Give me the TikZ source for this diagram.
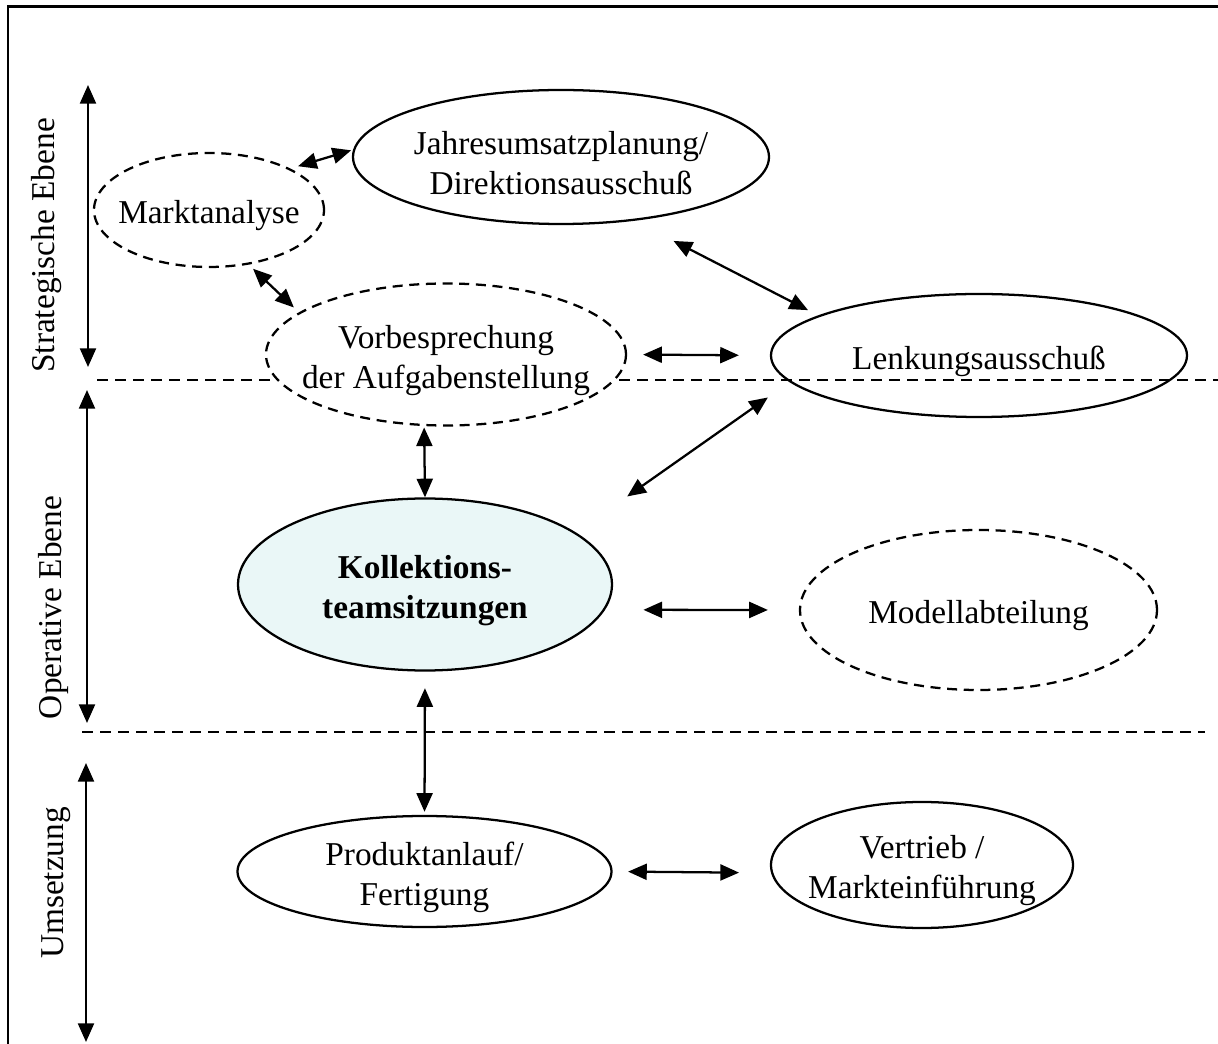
\documentclass[tikz,border=0pt]{standalone}
\usepackage{fontspec}
\setmainfont{Liberation Serif}
\definecolor{mKollFill}{HTML}{EAF7F7}
\usetikzlibrary{arrows.meta,shapes.geometric}
% pushes the first text line down a little
\newcommand{\toprule}{\rule{0pt}{26pt}}

\begin{document}
\begin{tikzpicture}[x=0.75pt, y=-0.75pt, font=\fontsize{25}{30}\selectfont,
  gremium/.style={ellipse, draw, line width=1.7pt, align=center, inner xsep=-15pt, inner ysep=-3pt},
  vorstufe/.style={gremium, dash pattern=on 7.5pt off 5pt},
  link/.style={{Triangle[length=14pt,width=12pt]}-{Triangle[length=14pt,width=12pt]}, line width=1.7pt},
  ebene/.style={rotate=90, anchor=base},
  trenner/.style={line width=2pt, dash pattern=on 8pt off 5.5pt}]
\useasboundingbox (0,0) rectangle (1218,1044);
% frame, only left and top edge visible
\draw[line width=2pt] (8,1044) -- (8,6.5) -- (1218,6.5);
% level separators
\draw[trenner] (97,380) -- (1218,380);
\draw[trenner] (82,732) -- (1205,732);
% level arrows and labels
\coordinate (strTop) at (88,85);
\coordinate (strBot) at (88,367);
\coordinate (opTop) at (87,390);
\coordinate (opBot) at (87,723);
\coordinate (umTop) at (86,763);
\coordinate (umBot) at (86,1042);
\draw[link] (strTop) -- (strBot);
\draw[link] (opTop) -- (opBot);
\draw[link] (umTop) -- (umBot);
\node[ebene] (strLabel) at (54,245.5) {Strategische Ebene};
\node[ebene] (opLabel) at (61,607.5) {Operative Ebene};
\node[ebene] (umLabel) at (63,883) {Umsetzung};
% strategic level
\node[vorstufe, minimum width=172.5pt, minimum height=85.5pt] (markt) at (209,210) {\toprule Marktanalyse};
\node[gremium, minimum width=312pt, minimum height=100.5pt] (jahres) at (561,157) {\toprule Jahresumsatzplanung/\\Direktionsausschuß};
\node[vorstufe, fill=white, minimum width=270pt, minimum height=106.5pt] (vorb) at (446,354.5) {\toprule Vorbesprechung\\der Aufgabenstellung};
\node[gremium, minimum width=312pt, minimum height=92.25pt] (lenk) at (979,355.5) {\toprule Lenkungsausschuß};
% operative level
\node[gremium, fill=mKollFill, minimum width=280.5pt, minimum height=129pt] (koll) at (425,584.5) {\toprule\textbf{Kollektions-}\\\textbf{teamsitzungen}};
\node[vorstufe, minimum width=267.75pt, minimum height=120pt] (modell) at (978.5,610) {\toprule Modellabteilung};
% execution level
\node[gremium, minimum width=280.5pt, minimum height=83.25pt] (prod) at (424.5,871.5) {\toprule Produktanlauf/\\Fertigung};
\node[gremium, minimum width=226.5pt, minimum height=94.5pt] (vertrieb) at (922,865) {\toprule Vertrieb /\\Markteinführung};
% connectors
\draw[link, shorten <=6pt, shorten >=1.5pt] (markt.27) -- (jahres.178.5);
\draw[link, shorten <=4.5pt, shorten >=5.3pt] (markt.-54) -- (vorb.164);
\draw[link, shorten <=33pt, shorten >=8.6pt] (jahres.-41) -- (lenk.166);
\draw[link, shorten <=12pt, shorten >=23.25pt] (vorb.east) -- (lenk.west);
\draw[link, shorten <=1pt] (vorb.-107) -- (koll.north);
\draw[link, shorten <=20pt, shorten >=47pt] (lenk.188) -- (koll.19);
\draw[link, shorten <=28.8pt, shorten >=23.25pt] (koll.-8) -- (modell.west);
\draw[link, shorten <=12.4pt, shorten >=2.3pt] (koll.south) -- (prod.north);
\draw[link, shorten <=11.6pt, shorten >=24pt] (prod.east) -- (vertrieb.183);
\end{tikzpicture}
\end{document}
